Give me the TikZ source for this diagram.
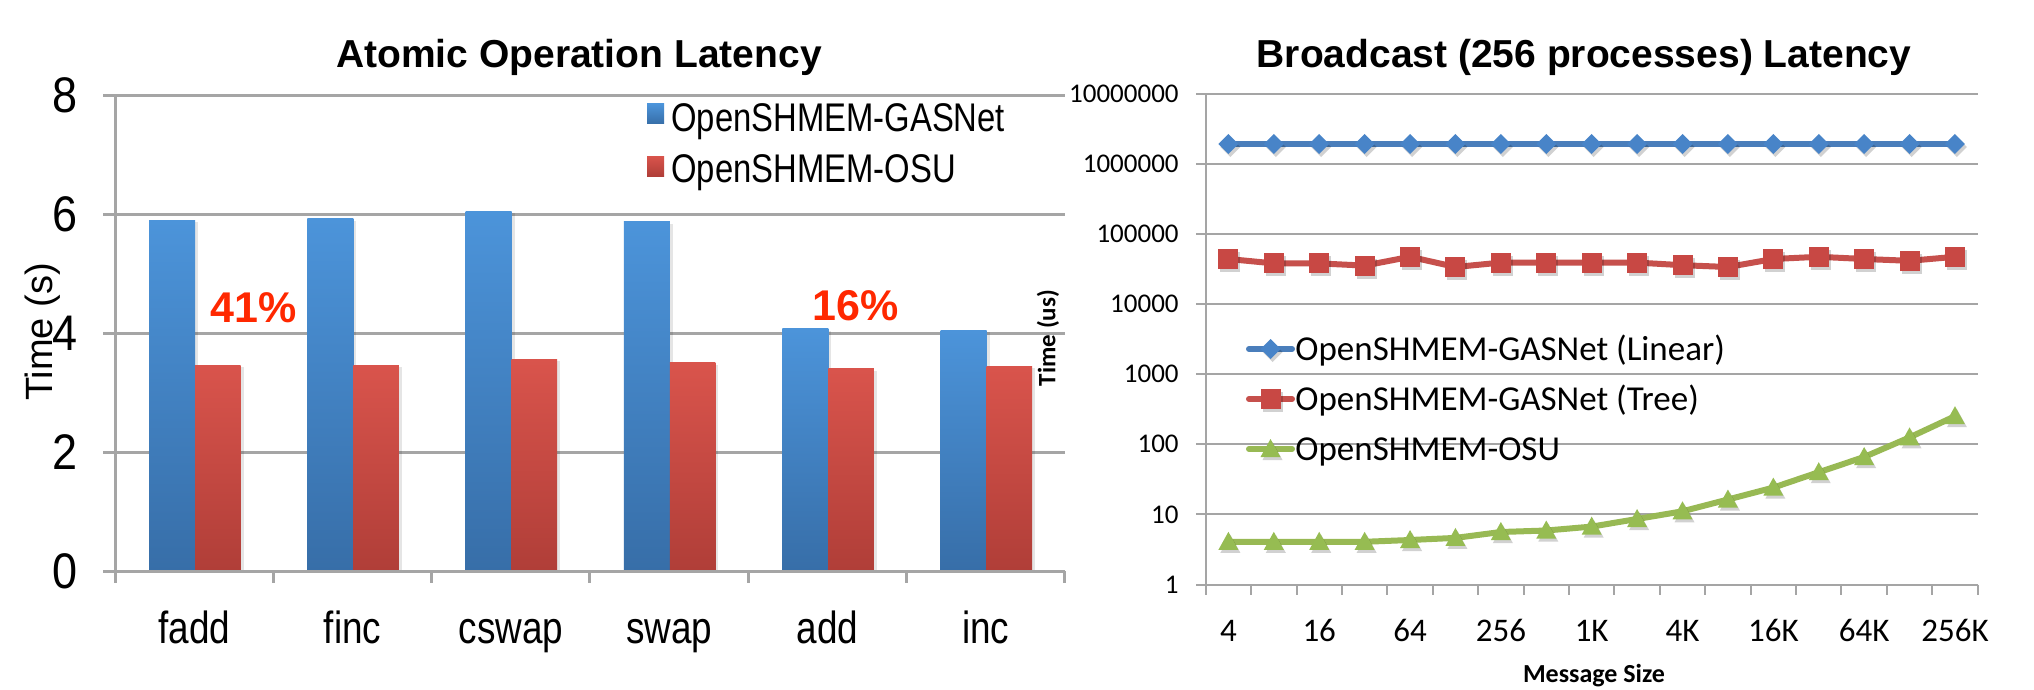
\documentclass[tikz,border=0pt]{standalone}
\usepackage{fontspec}
\setmainfont{Liberation Sans}
\newfontfamily\narrowfont[FakeStretch=0.82]{Liberation Sans}
\newfontfamily\ticknarrow[FakeStretch=0.9]{Liberation Sans}
\newfontfamily\calfont{Carlito}
\definecolor{gridgray}{RGB}{165,165,165}
\definecolor{bluetop}{RGB}{76,148,218}
\definecolor{bluebot}{RGB}{55,110,168}
\definecolor{redtop}{RGB}{217,84,76}
\definecolor{redbot}{RGB}{176,62,56}
\definecolor{pctred}{RGB}{255,40,0}
\definecolor{lineblue}{RGB}{74,126,187}
\definecolor{linered}{RGB}{198,80,76}
\definecolor{linegreen}{RGB}{152,185,84}
\definecolor{markblue}{RGB}{72,132,200}
\definecolor{markred}{RGB}{200,72,68}
\definecolor{markgreen}{RGB}{150,188,82}
\tikzset{
  lgrid/.style={draw=gridgray,line width=1.5pt},
  rgrid/.style={draw=gridgray,line width=1pt},
  ltick/.style={font=\ticknarrow\fontsize{25}{29}\selectfont,inner sep=0pt,anchor=east},
  lcat/.style={font=\narrowfont\fontsize{22.5}{27}\selectfont,inner sep=0pt,anchor=base},
  lleg/.style={font=\narrowfont\fontsize{20}{24}\selectfont,inner sep=0pt,anchor=base west},
  pct/.style={font=\bfseries\fontsize{21.5}{26}\selectfont,text=pctred,inner sep=0pt},
  ttl/.style={font=\bfseries\fontsize{19.5}{23}\selectfont,inner sep=0pt,anchor=base},
  rtick/.style={font=\calfont\fontsize{13.5}{16}\selectfont,inner sep=0pt,anchor=east},
  rcat/.style={font=\calfont\fontsize{16.5}{20}\selectfont,inner sep=0pt,anchor=base},
  rleg/.style={font=\calfont\fontsize{17.5}{21}\selectfont,inner sep=0pt,anchor=base west},
  dline/.style={line width=3pt,line join=round,line cap=round},
  diam/.pic={\fill[black,opacity=0.18] (-8,3) -- (2,-7) -- (12,3) -- (2,13) -- cycle;
             \fill[markblue] (-10,0) -- (0,-10) -- (10,0) -- (0,10) -- cycle;},
  sqm/.pic={\fill[black,opacity=0.18] (-8,-7) rectangle (12,13);
            \fill[markred] (-10,-10) rectangle (10,10);},
  trim/.pic={\fill[black,opacity=0.18] (-8,11) -- (12,11) -- (2,-7) -- cycle;
             \fill[markgreen] (-10,8) -- (10,8) -- (0,-10) -- cycle;}
}
\begin{document}
\begin{tikzpicture}[x=0.5pt,y=-0.5pt]
\useasboundingbox (0,0) rectangle (2034,690);
\fill[white] (0,0) rectangle (2034,690);

% ================= LEFT CHART =================
\node[ttl] (ltitle) at (579,68) {Atomic Operation Latency};
\foreach \v in {2,4,6,8}{
  \draw[lgrid] (103,{571-59.46*\v}) -- (1065,{571-59.46*\v});
  \node[ltick] (ly\v) at (78,{571-59.46*\v}) {\v};
}
\node[ltick] (ly0) at (78,571) {0};
\node[rotate=90,font=\fontsize{19}{23}\selectfont,inner sep=0pt] (lylab) at (43,332) {Time (s)};

% bars
\foreach \k/\b/\r/\name in {0/5.90/3.46/fadd,1/5.92/3.46/finc,2/6.05/3.56/cswap,3/5.87/3.50/swap,4/4.07/3.40/add,5/4.05/3.44/inc}{
  \pgfmathsetmacro\cx{115+158.33*\k}
  \pgfmathsetmacro\yb{571-59.46*\b}
  \pgfmathsetmacro\yr{571-59.46*\r}
  \fill[black,opacity=0.10] (\cx+37,571) rectangle (\cx+83,\yb+2);
  \fill[black,opacity=0.10] (\cx+83,571) rectangle (\cx+128.5,\yr+2);
  \shade[top color=bluetop,bottom color=bluebot] (\cx+34,571) rectangle (\cx+80,\yb);
  \shade[top color=redtop,bottom color=redbot] (\cx+80,571) rectangle (\cx+125.5,\yr);
  \node[lcat] (cat\k) at (\cx+79.2,643) {\name};
}
% axes
\draw[lgrid] (103,571) -- (1065,571);
\draw[lgrid] (115,95) -- (115,583);
\foreach \k in {1,...,6}{
  \draw[lgrid] ({115+158.33*\k},571) -- ({115+158.33*\k},583);
}
% legend
\shade[top color=bluetop,bottom color=bluebot] (647,104) rectangle (664,124);
\shade[top color=redtop,bottom color=redbot] (647,156) rectangle (664,176);
\node[lleg] (lleg1) at (671,132) {OpenSHMEM-GASNet};
\node[lleg] (lleg2) at (671,182) {OpenSHMEM-OSU};
% percentages
\node[pct] (p41) at (254,308) {41\%};
\node[pct] (p16) at (856,306) {16\%};

% ================= RIGHT CHART =================
\node[ttl] (rtitle) at (1584,68) {Broadcast (256 processes) Latency};
\foreach \i/\lab in {0/1,1/10,2/100,3/1000,4/10000,5/100000,6/1000000,7/10000000}{
  \draw[rgrid] (1196,{584.5-70.14*\i}) -- (1977.7,{584.5-70.14*\i});
  \node[rtick] (ry\i) at (1179,{584.5-70.14*\i}) {\lab};
}
\draw[rgrid] (1205.7,93.5) -- (1205.7,595);
\foreach \k in {1,...,17}{
  \draw[rgrid] ({1205.7+45.41*\k},584.5) -- ({1205.7+45.41*\k},595);
}
\foreach \i/\lab in {0/4,2/16,4/64,6/256,8/1K,10/4K,12/16K,14/64K,16/256K}{
  \node[rcat] (rx\i) at ({1228.4+45.41*\i},641.7) {\lab};
}
\node[rotate=90,font=\calfont\bfseries\fontsize{12.5}{15}\selectfont,inner sep=0pt] (rylab) at (1048,338) {Time (us)};
\node[font=\calfont\bfseries\fontsize{13}{16}\selectfont,inner sep=0pt,anchor=base] (rxlab) at (1594,682) {Message Size};

% data coordinates
\foreach \i in {0,...,16}{
  \coordinate (b\i) at ({1228.4+45.41*\i},144);
}
\foreach \y [count=\i from 0] in {259,263.4,263.4,265.6,256.8,267,262.6,262.6,262.6,262.6,265.2,267,259,256.8,259,260.8,256.8}{
  \coordinate (r\i) at ({1228.4+45.41*\i},\y);
}
\foreach \y [count=\i from 0] in {541.8,541.8,541.8,541.8,540,537.9,532,530.5,526.6,519,511.3,499.5,487.6,472.2,457,437.4,416.2}{
  \coordinate (g\i) at ({1228.4+45.41*\i},\y);
}
\draw[dline,lineblue] (b0) \foreach \i in {1,...,16}{ -- (b\i)};
\draw[dline,linered] (r0) \foreach \i in {1,...,16}{ -- (r\i)};
\draw[dline,linegreen] (g0) \foreach \i in {1,...,16}{ -- (g\i)};
\foreach \i in {0,...,16}{
  \pic at (b\i) {diam};
  \pic at (r\i) {sqm};
  \pic at (g\i) {trim};
}

% legend
\coordinate (lg1a) at (1249,349); \coordinate (lg1b) at (1292,349);
\coordinate (lg2a) at (1249,399); \coordinate (lg2b) at (1292,399);
\coordinate (lg3a) at (1249,449); \coordinate (lg3b) at (1292,449);
\draw[dline,lineblue] (lg1a) -- (lg1b);
\draw[dline,linered] (lg2a) -- (lg2b);
\draw[dline,linegreen] (lg3a) -- (lg3b);
\pic at (1270.5,349) {diam};
\pic at (1270.5,399) {sqm};
\pic at (1270.5,449) {trim};
\node[rleg] (rleg1) at (1295,360) {OpenSHMEM-GASNet (Linear)};
\node[rleg] (rleg2) at (1295,410) {OpenSHMEM-GASNet (Tree)};
\node[rleg] (rleg3) at (1295,460) {OpenSHMEM-OSU};
\end{tikzpicture}
\end{document}
